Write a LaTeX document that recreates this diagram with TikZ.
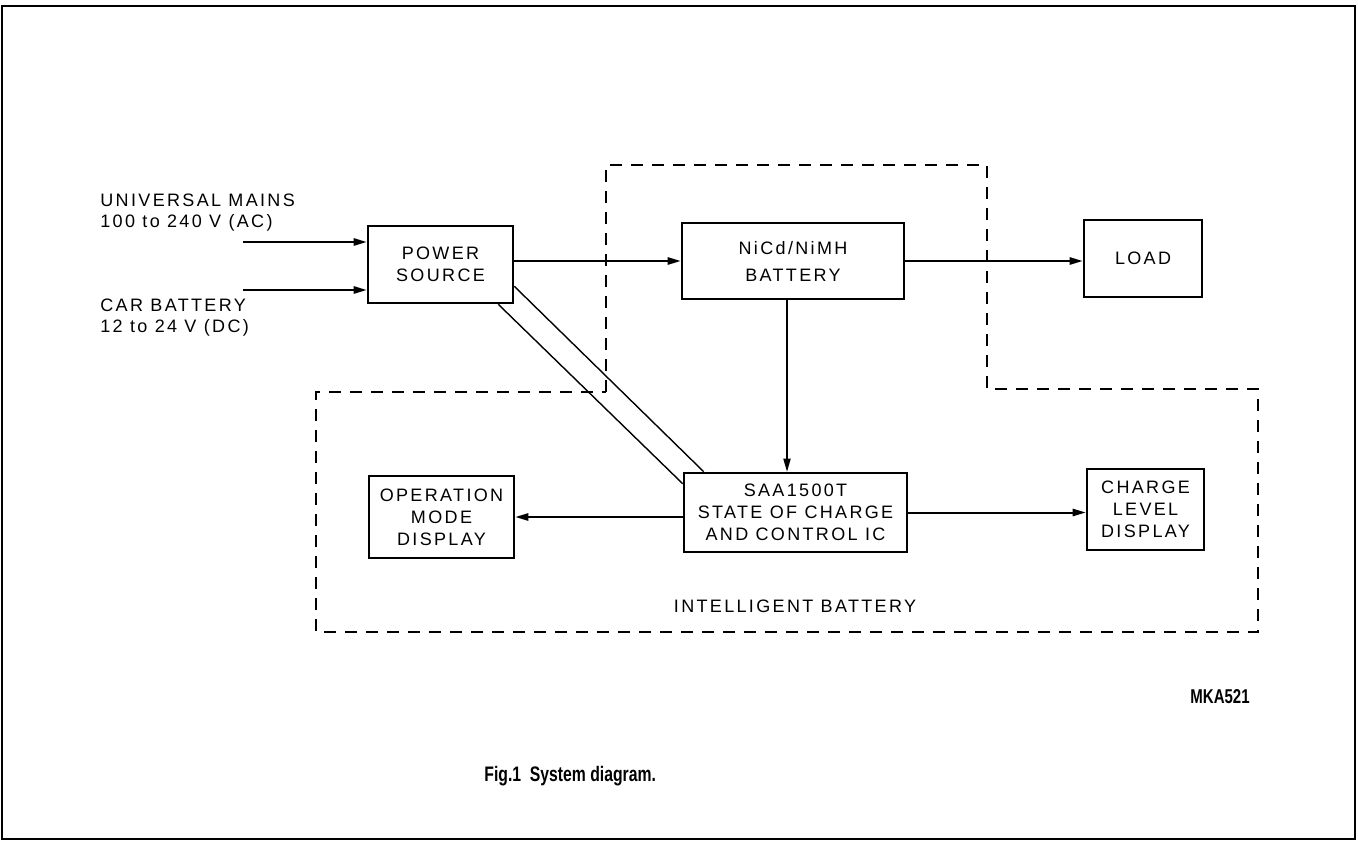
\documentclass[tikz,border=0pt]{standalone}
\usepackage{fontspec}
\setmainfont{Liberation Sans}
\newfontfamily\plotfont{Liberation Sans}[LetterSpace=13]
\newfontfamily\capfont{Liberation Sans}[FakeStretch=0.75]
\usepackage{tikz}
\usetikzlibrary{arrows.meta, positioning, calc}

\begin{document}
\begin{tikzpicture}[x=0.5pt, y=-0.5pt,
  blk/.style={draw, line width=1.3pt, align=center, inner sep=0pt,
    font=\plotfont\fontsize{9}{11}\selectfont},
  lbl/.style={align=left, inner sep=0pt, font=\plotfont\fontsize{9}{10.5}\selectfont},
  sig/.style={line width=1pt, -{Triangle[length=6.5pt, width=3.6pt]}},
  bound/.style={line width=1pt, dash pattern=on 6pt off 4.5pt}]
  \useasboundingbox (0,0) rectangle (1358,840);
  \draw[line width=0.9pt] (2,6) rectangle (1355,839);

  % blocks
  \node[blk, minimum width=72.5pt, minimum height=38.5pt] (power) at (440.5,264.5) {POWER\\SOURCE};
  \node[blk, minimum width=111pt, minimum height=38pt] (batt) at (793,261) {NiCd/NiMH\\[2.5pt]BATTERY};
  \node[blk, minimum width=59pt, minimum height=38.5pt] (load) at (1143,258.5) {LOAD};
  \node[blk, minimum width=111.5pt, minimum height=39.5pt] (saa) at (795.5,512.5) {SAA1500T\\STATE OF CHARGE\\AND CONTROL IC};
  \node[blk, minimum width=72.5pt, minimum height=41pt] (opmode) at (441.5,517) {OPERATION\\MODE\\DISPLAY};
  \node[blk, minimum width=58.5pt, minimum height=40.5pt] (chglvl) at (1145.5,509.5) {CHARGE\\LEVEL\\DISPLAY};

  % inputs
  \node[lbl, anchor=west] (mains) at (100,213) {UNIVERSAL MAINS\\100 to 240 V (AC)};
  \node[lbl, anchor=west] (car) at (100,318) {CAR BATTERY\\12 to 24 V (DC)};
  \coordinate (acin) at (243,242);
  \coordinate (dcin) at (243,290);
  \draw[sig] (acin) -- (acin -| power.west);
  \draw[sig] (dcin) -- (dcin -| power.west);

  % signal paths
  \draw[sig] (batt.west -| power.east) -- (batt.west);
  \draw[sig] (batt.east) -- (batt.east -| load.west);
  \draw[sig, line width=0.6pt] ([xshift=-3pt]batt.south) -- ([xshift=-3pt]batt.south |- saa.north);
  \draw[sig] (saa.west |- opmode.east) -- (opmode.east);
  \draw[sig] (saa.east) -- (saa.east -| chglvl.west);

  % double link power source -- IC
  \draw[line width=0.7pt] ([yshift=9pt]power.south east) -- ([xshift=10.5pt]saa.north west);
  \draw[line width=0.7pt] ([xshift=-8pt]power.south east) -- ([yshift=-6pt]saa.north west);

  % intelligent battery boundary
  \draw[bound] (606,392) -- (606,165) -- (987,165) -- (987,389) -- (1258,389)
    -- (1258,632) -- (316,632) -- (316,392) -- cycle;
  \node[lbl] (intbat) at (795,606) {INTELLIGENT BATTERY};

  \node[anchor=east, inner sep=0pt, font=\capfont\bfseries\fontsize{10}{12}\selectfont] (code) at (1250,697) {MKA521};
  \node[anchor=west, inner sep=0pt, font=\capfont\bfseries\fontsize{10.5}{12}\selectfont] (caption) at (484,776) {Fig.1\ \ System diagram.};
\end{tikzpicture}
\end{document}
